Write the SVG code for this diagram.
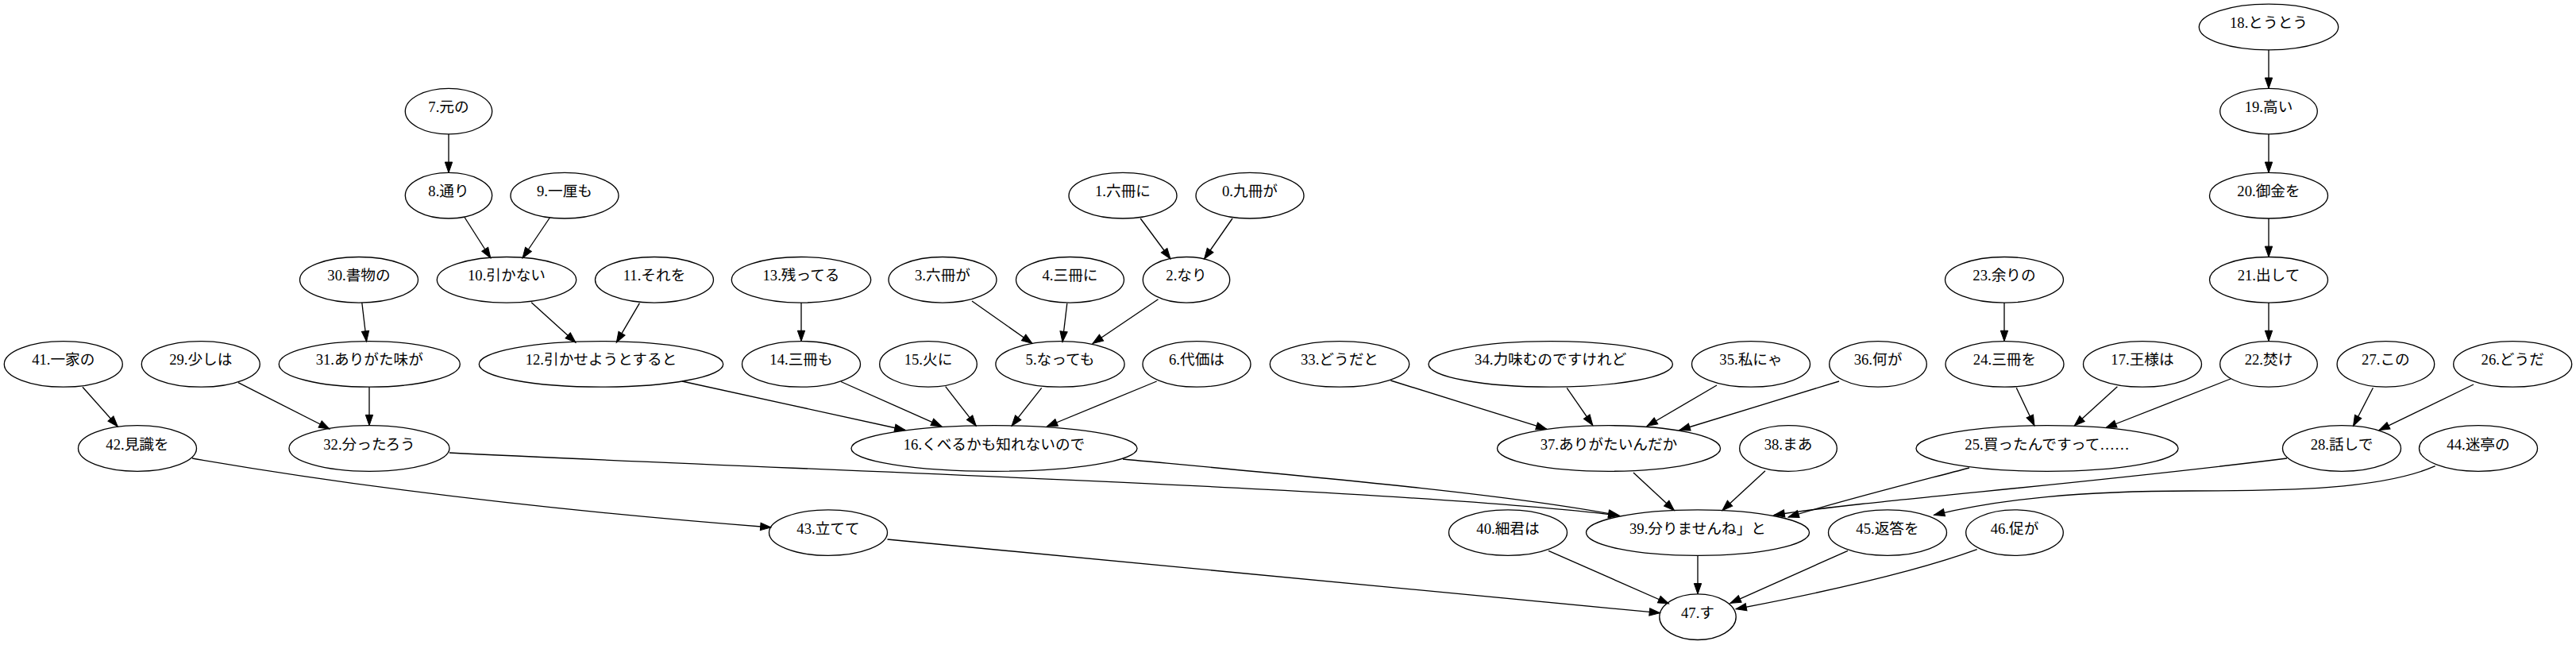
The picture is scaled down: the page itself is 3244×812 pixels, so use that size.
<svg xmlns="http://www.w3.org/2000/svg" width="3244" height="812" viewBox="0 0 3244 812">
<defs>
<style>
.n ellipse{fill:none;stroke:#000;stroke-width:1.33}
.n text{font-family:'Liberation Serif','Noto Sans CJK JP',serif;font-size:18.67px;text-anchor:middle;fill:#000}
.e path{fill:none;stroke:#000;stroke-width:1.33;marker-end:url(#ah)}
</style>
<marker id="ah" markerUnits="userSpaceOnUse" markerWidth="16" markerHeight="12" viewBox="-1 -6 16 12" refX="13.33" refY="0" orient="auto">
<polygon points="0,-4.67 13.33,0 0,4.67" fill="#000" stroke="#000" stroke-width="1"/>
</marker>
</defs>
<rect width="3244" height="812" fill="#fff"/>
<g id="connectors" class="e">
<path d="M2857,62.8 L2857,111.3"/>
<path d="M2857,168.9 L2857,217.4"/>
<path d="M2857,275 L2857,323.5"/>
<path d="M2857,381.1 L2857,429.6"/>
<path d="M565,168.9 L565,217.4"/>
<path d="M585.3,274 L617.9,325"/>
<path d="M692.4,274 L658,325"/>
<path d="M669.2,380.7 L725,431.2"/>
<path d="M805.4,381.7 L776.3,431.2"/>
<path d="M1436.2,275 L1474,326"/>
<path d="M1552,275 L1516.5,326"/>
<path d="M1224,379 L1300,432.5"/>
<path d="M1343.8,382 L1338,430.5"/>
<path d="M1458.5,376.7 L1376,432.5"/>
<path d="M1009,381.1 L1009,429.6"/>
<path d="M455.8,381 L461.6,430"/>
<path d="M465,487.2 L465,535.7"/>
<path d="M300,481.7 L415,540"/>
<path d="M104,487.3 L148.3,537"/>
<path d="M859,480 L1140,541.5"/>
<path d="M1059,480.5 L1186,536.8"/>
<path d="M1190.7,486.7 L1229.3,536.2"/>
<path d="M1311.7,488.3 L1274,536.2"/>
<path d="M1456.7,480 L1318.3,537"/>
<path d="M1751.3,479 L1947.8,540.2"/>
<path d="M1973.2,488.3 L2005.8,535.5"/>
<path d="M2162,485 L2074,536.5"/>
<path d="M2316,480 L2115,541.5"/>
<path d="M2524,381.1 L2524,429.6"/>
<path d="M2539.3,488.3 L2562,536"/>
<path d="M2666.4,486.7 L2612.3,536"/>
<path d="M2809,477 L2652,538.5"/>
<path d="M2988.4,488.3 L2963.5,536.3"/>
<path d="M3115,484 L2996,541.7"/>
<path d="M566,570 C1000,592 1750,614 2039,649"/>
<path d="M1414,578 C1650,600 1900,622 2039,649"/>
<path d="M2057,595 L2108.5,642.7"/>
<path d="M2223,592.7 L2168.8,642.7"/>
<path d="M2480,589 C2400,610 2320,630 2252,651"/>
<path d="M2880,577 C2600,612 2350,630 2234,648.5"/>
<path d="M242,577 Q560,632 971,664"/>
<path d="M1117.5,679 L2090.5,771.7"/>
<path d="M1950,693.3 L2101.5,760"/>
<path d="M2138,699.4 L2138,747.9"/>
<path d="M2327,693.3 L2179,759.3"/>
<path d="M2489.7,691.7 Q2390,728 2186,766.7"/>
<path d="M3066.7,586.7 C3000,616 2880,618 2760,618 C2620,618 2520,628 2435.5,648.3"/>
</g>
<g id="node18" class="n"><ellipse cx="2857" cy="34" rx="87.7" ry="28.8"/><text x="2857" y="35">18.とうとう</text></g>
<g id="node7" class="n"><ellipse cx="565" cy="140.1" rx="54.7" ry="28.8"/><text x="565" y="141.1">7.元の</text></g>
<g id="node19" class="n"><ellipse cx="2857" cy="140.1" rx="61.3" ry="28.8"/><text x="2857" y="141.1">19.高い</text></g>
<g id="node8" class="n"><ellipse cx="565" cy="246.2" rx="54.7" ry="28.8"/><text x="565" y="247.2">8.通り</text></g>
<g id="node9" class="n"><ellipse cx="711" cy="246.2" rx="68" ry="28.8"/><text x="711" y="247.2">9.一厘も</text></g>
<g id="node1" class="n"><ellipse cx="1414" cy="246.2" rx="68" ry="28.8"/><text x="1414" y="247.2">1.六冊に</text></g>
<g id="node0" class="n"><ellipse cx="1574" cy="246.2" rx="68" ry="28.8"/><text x="1574" y="247.2">0.九冊が</text></g>
<g id="node20" class="n"><ellipse cx="2857" cy="246.2" rx="74.5" ry="28.8"/><text x="2857" y="247.2">20.御金を</text></g>
<g id="node30" class="n"><ellipse cx="452" cy="352.3" rx="74.5" ry="28.8"/><text x="452" y="353.3">30.書物の</text></g>
<g id="node10" class="n"><ellipse cx="638" cy="352.3" rx="87.7" ry="28.8"/><text x="638" y="353.3">10.引かない</text></g>
<g id="node11" class="n"><ellipse cx="824" cy="352.3" rx="74.5" ry="28.8"/><text x="824" y="353.3">11.それを</text></g>
<g id="node13" class="n"><ellipse cx="1009" cy="352.3" rx="87.7" ry="28.8"/><text x="1009" y="353.3">13.残ってる</text></g>
<g id="node3" class="n"><ellipse cx="1187" cy="352.3" rx="68" ry="28.8"/><text x="1187" y="353.3">3.六冊が</text></g>
<g id="node4" class="n"><ellipse cx="1347.5" cy="352.3" rx="68" ry="28.8"/><text x="1347.5" y="353.3">4.三冊に</text></g>
<g id="node2" class="n"><ellipse cx="1494" cy="352.3" rx="54.7" ry="28.8"/><text x="1494" y="353.3">2.なり</text></g>
<g id="node23" class="n"><ellipse cx="2524" cy="352.3" rx="74.5" ry="28.8"/><text x="2524" y="353.3">23.余りの</text></g>
<g id="node21" class="n"><ellipse cx="2857" cy="352.3" rx="74.5" ry="28.8"/><text x="2857" y="353.3">21.出して</text></g>
<g id="node41" class="n"><ellipse cx="79.8" cy="458.4" rx="74.5" ry="28.8"/><text x="79.8" y="459.4">41.一家の</text></g>
<g id="node29" class="n"><ellipse cx="252.8" cy="458.4" rx="74.5" ry="28.8"/><text x="252.8" y="459.4">29.少しは</text></g>
<g id="node31" class="n"><ellipse cx="465.3" cy="458.4" rx="114" ry="28.8"/><text x="465.3" y="459.4">31.ありがた味が</text></g>
<g id="node12" class="n"><ellipse cx="757" cy="458.4" rx="153.7" ry="28.8"/><text x="757" y="459.4">12.引かせようとすると</text></g>
<g id="node14" class="n"><ellipse cx="1009" cy="458.4" rx="74.5" ry="28.8"/><text x="1009" y="459.4">14.三冊も</text></g>
<g id="node15" class="n"><ellipse cx="1169" cy="458.4" rx="61.3" ry="28.8"/><text x="1169" y="459.4">15.火に</text></g>
<g id="node5" class="n"><ellipse cx="1335" cy="458.4" rx="81.1" ry="28.8"/><text x="1335" y="459.4">5.なっても</text></g>
<g id="node6" class="n"><ellipse cx="1507" cy="458.4" rx="68" ry="28.8"/><text x="1507" y="459.4">6.代価は</text></g>
<g id="node33" class="n"><ellipse cx="1687" cy="458.4" rx="87.7" ry="28.8"/><text x="1687" y="459.4">33.どうだと</text></g>
<g id="node34" class="n"><ellipse cx="1952.7" cy="458.4" rx="153.7" ry="28.8"/><text x="1952.7" y="459.4">34.力味むのですけれど</text></g>
<g id="node35" class="n"><ellipse cx="2205" cy="458.4" rx="74.5" ry="28.8"/><text x="2205" y="459.4">35.私にゃ</text></g>
<g id="node36" class="n"><ellipse cx="2365" cy="458.4" rx="61.3" ry="28.8"/><text x="2365" y="459.4">36.何が</text></g>
<g id="node24" class="n"><ellipse cx="2524.5" cy="458.4" rx="74.5" ry="28.8"/><text x="2524.5" y="459.4">24.三冊を</text></g>
<g id="node17" class="n"><ellipse cx="2698" cy="458.4" rx="74.5" ry="28.8"/><text x="2698" y="459.4">17.王様は</text></g>
<g id="node22" class="n"><ellipse cx="2857" cy="458.4" rx="61.3" ry="28.8"/><text x="2857" y="459.4">22.焚け</text></g>
<g id="node27" class="n"><ellipse cx="3004.4" cy="458.4" rx="61.3" ry="28.8"/><text x="3004.4" y="459.4">27.この</text></g>
<g id="node26" class="n"><ellipse cx="3164.2" cy="458.4" rx="74.5" ry="28.8"/><text x="3164.2" y="459.4">26.どうだ</text></g>
<g id="node42" class="n"><ellipse cx="173" cy="564.5" rx="74.5" ry="28.8"/><text x="173" y="565.5">42.見識を</text></g>
<g id="node32" class="n"><ellipse cx="465" cy="564.5" rx="101" ry="28.8"/><text x="465" y="565.5">32.分ったろう</text></g>
<g id="node16" class="n"><ellipse cx="1252" cy="564.5" rx="180" ry="28.8"/><text x="1252" y="565.5">16.くべるかも知れないので</text></g>
<g id="node37" class="n"><ellipse cx="2026" cy="564.5" rx="140.5" ry="28.8"/><text x="2026" y="565.5">37.ありがたいんだか</text></g>
<g id="node38" class="n"><ellipse cx="2252" cy="564.5" rx="61.3" ry="28.8"/><text x="2252" y="565.5">38.まあ</text></g>
<g id="node25" class="n"><ellipse cx="2578" cy="564.5" rx="165" ry="28.8"/><text x="2578" y="565.5">25.買ったんですって……</text></g>
<g id="node28" class="n"><ellipse cx="2949" cy="564.5" rx="74.5" ry="28.8"/><text x="2949" y="565.5">28.話しで</text></g>
<g id="node44" class="n"><ellipse cx="3121" cy="564.5" rx="74.5" ry="28.8"/><text x="3121" y="565.5">44.迷亭の</text></g>
<g id="node43" class="n"><ellipse cx="1043" cy="670.6" rx="74.5" ry="28.8"/><text x="1043" y="671.6">43.立てて</text></g>
<g id="node40" class="n"><ellipse cx="1899" cy="670.6" rx="74.5" ry="28.8"/><text x="1899" y="671.6">40.細君は</text></g>
<g id="node39" class="n"><ellipse cx="2138" cy="670.6" rx="140.5" ry="28.8"/><text x="2138" y="671.6">39.分りませんね」と</text></g>
<g id="node45" class="n"><ellipse cx="2377" cy="670.6" rx="74.5" ry="28.8"/><text x="2377" y="671.6">45.返答を</text></g>
<g id="node46" class="n"><ellipse cx="2537" cy="670.6" rx="61.3" ry="28.8"/><text x="2537" y="671.6">46.促が</text></g>
<g id="node47" class="n"><ellipse cx="2138" cy="776.7" rx="48.2" ry="28.8"/><text x="2138" y="777.7">47.す</text></g>
</svg>
